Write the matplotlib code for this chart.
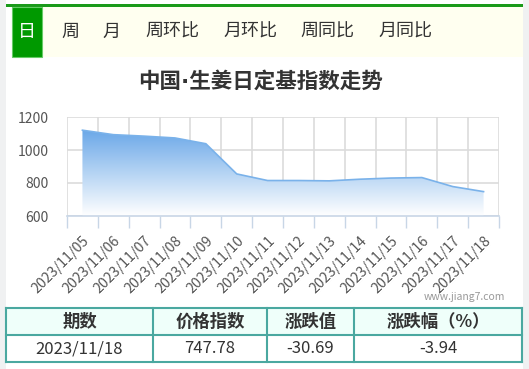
import numpy as np
import matplotlib
matplotlib.use("Agg")
import matplotlib.pyplot as plt
from matplotlib.patches import Rectangle, Polygon
from matplotlib.lines import Line2D

plt.rcParams['font.family'] = ['Noto Sans CJK SC', 'DejaVu Sans']

# ---- data ----
dates = ['2023/11/05', '2023/11/06', '2023/11/07', '2023/11/08', '2023/11/09',
         '2023/11/10', '2023/11/11', '2023/11/12', '2023/11/13', '2023/11/14',
         '2023/11/15', '2023/11/16', '2023/11/17', '2023/11/18']
values = [1120, 1093, 1084, 1073, 1038, 855, 815, 815, 813, 823, 830, 833, 778.47, 747.78]
y_ticks = [600, 800, 1000, 1200]
tabs = ['日', '周', '月', '周环比', '月环比', '周同比', '月同比']
title = '中国·生姜日定基指数走势'
table_header = ['期数', '价格指数', '涨跌值', '涨跌幅（%）']
table_row = ['2023/11/18', '747.78', '-30.69', '-3.94']
watermark = 'www.jiang7.com'

W, H = 529, 369
fig = plt.figure(figsize=(W / 100, H / 100), dpi=100)
fig.patch.set_facecolor('white')


def fx(x):
    return x / W


def fy(y):
    return 1 - y / H


def rect(x0, y0, x1, y1, **kw):
    fig.patches.append(Rectangle((fx(x0), fy(y1)), fx(x1) - fx(x0), fy(y0) - fy(y1),
                                 transform=fig.transFigure, **kw))


# side gray strips
rect(0, 0, 6, H, facecolor='#f0f1f2', edgecolor='none')
rect(523, 0, W, H, facecolor='#f0f1f2', edgecolor='none')
# tab bar
rect(12, 6.5, 523, 57, facecolor='#fffff0', edgecolor='none')
rect(6, 4, 523, 6.5, facecolor='#1a9a1a', edgecolor='none')
rect(12, 6.5, 42, 56.5, facecolor='#009900', edgecolor='#66cc66', linewidth=0.8)
tab_x = [27, 70, 111, 172, 250, 327, 405]
for i, (t, x) in enumerate(zip(tabs, tab_x)):
    fig.text(fx(x), fy(32), t, ha='center', va='center', fontsize=13,
             color='white' if i == 0 else '#333333')

# title
fig.text(fx(260), fy(81), title, ha='center', va='center', fontsize=15.5,
         fontweight='bold', color='#333333', family=['DejaVu Sans', 'Noto Sans CJK SC'])

# ---- main chart ----
ax = fig.add_axes([fx(67), fy(216), fx(499) - fx(67), fy(117) - fy(216)])
ax.set_facecolor('none')
n = len(dates)
xs = np.arange(n)
ax.set_xlim(-0.5, n - 0.5)
ax.set_ylim(600, 1200)

# gradient fill
verts = [(xs[0], 600)] + list(zip(xs, values)) + [(xs[-1], 600)]
poly = Polygon(verts, closed=True, facecolor='none', edgecolor='none')
ax.add_patch(poly)
grad = np.linspace(0, 1, 256).reshape(-1, 1)
top_c = np.array([0.42, 0.66, 0.91])
bot_c = np.array([1.0, 1.0, 1.0])
img = top_c[None, None, :] * (1 - grad[:, :, None]) + bot_c[None, None, :] * grad[:, :, None]
im = ax.imshow(img, extent=[xs[0], xs[-1], 600, max(values)], origin='upper',
               aspect='auto', zorder=2)
im.set_clip_path(poly)
ax.plot(xs, values, color='#7ab2ea', linewidth=1.2, zorder=3)

# grid
ax.set_yticks(y_ticks)
ax.set_xticks(xs)
ax.set_xticks(np.arange(-0.5, n, 1.0), minor=True)
ax.grid(True, which='major', axis='y', color='#dcdcdc', linewidth=1.2, zorder=1)
ax.grid(True, which='minor', axis='x', color='#dcdcdc', linewidth=1.2, zorder=1)
ax.grid(False, which='major', axis='x')
for s in ['top', 'right', 'left']:
    ax.spines[s].set_visible(False)
ax.spines['bottom'].set_color('#c8d6e6')
ax.spines['bottom'].set_linewidth(1.2)
ax.tick_params(axis='y', length=0, pad=13, labelsize=10, labelcolor='#555555')
ax.tick_params(axis='x', which='major', length=0, pad=13)
ax.tick_params(axis='x', which='minor', length=8.5, width=1, color='#c8d6e6', direction='out')
ax.set_xticklabels(dates, rotation=45, ha='right', va='top', rotation_mode='anchor',
                   fontsize=10.2, color='#555555')

# watermark
fig.text(fx(505), fy(297), watermark, ha='right', va='center', fontsize=7.5, color='#999999')

# ---- table ----
tx = [6, 153, 267, 354, 522]
ty = [308, 335, 362]
rect(tx[0], ty[0], tx[-1], ty[1], facecolor='#effffa', edgecolor='none')
border = '#4aa8a0'
for y in ty:
    fig.lines.append(Line2D([fx(tx[0]), fx(tx[-1])], [fy(y), fy(y)], transform=fig.transFigure,
                            color=border, linewidth=1.5))
for x in tx:
    fig.lines.append(Line2D([fx(x), fx(x)], [fy(ty[0]), fy(ty[-1])], transform=fig.transFigure,
                            color=border, linewidth=1.5))
for i in range(4):
    cx = (tx[i] + tx[i + 1]) / 2
    fig.text(fx(cx), fy((ty[0] + ty[1]) / 2), table_header[i], ha='center', va='center',
             fontsize=12.5, fontweight='bold', color='#333333')
    fig.text(fx(cx), fy((ty[1] + ty[2]) / 2), table_row[i], ha='center', va='center',
             fontsize=12, color='#333333')

fig.savefig('out.png', dpi=100)
